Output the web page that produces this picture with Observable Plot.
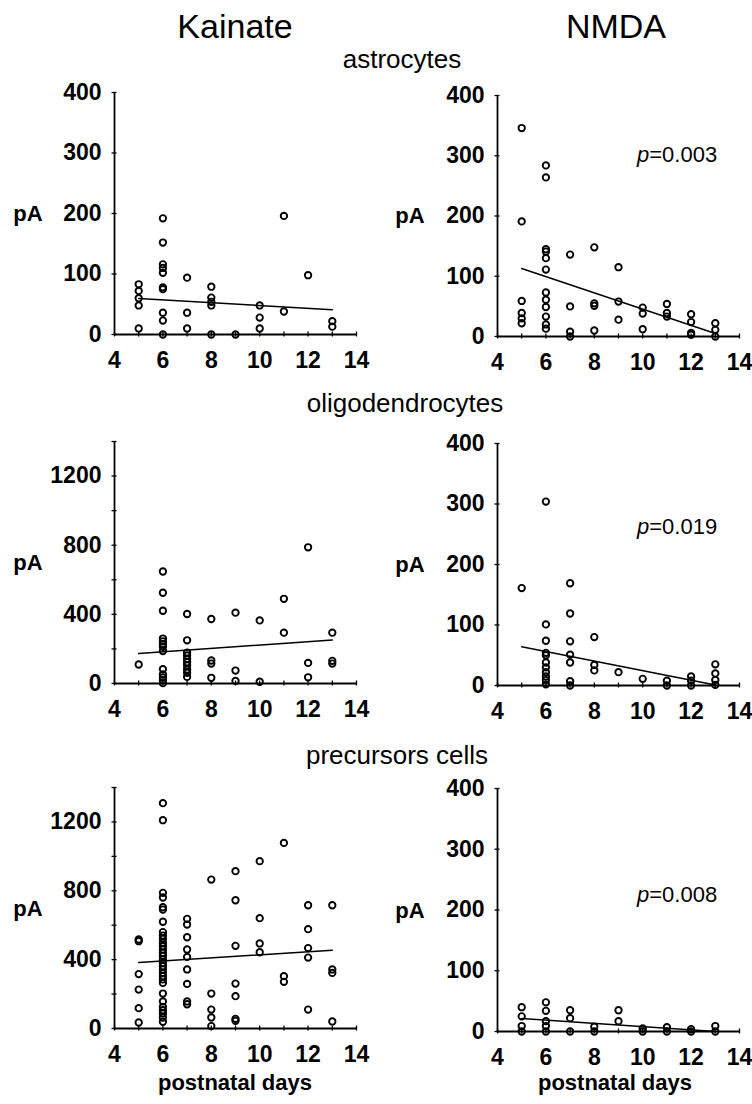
<!DOCTYPE html>
<html><head><meta charset="utf-8">
<script src="https://cdn.jsdelivr.net/npm/d3@7"></script>
<script src="https://cdn.jsdelivr.net/npm/@observablehq/plot@0.6"></script>
<style>
body{margin:0;background:#fff;}
#page{position:relative;width:752px;height:1104px;font-family:"Liberation Sans",Arial,Helvetica,sans-serif;color:#000;overflow:hidden;}
#page svg{position:absolute;}
</style></head><body><div id="page"></div>
<script>
// ---- data: [postnatal day, [currents in pA]] ----
const kainateAstrocytes = [
  [5,[83,72,60,48,10]],
  [6,[192,152,116,110,102,78,75,36,23,0]],
  [7,[94,36,10]],
  [8,[79,61,54,48,0]],
  [9,[0]],
  [10,[48,28,10]],
  [11,[196,38]],
  [12,[98]],
  [13,[22,13]]
];
const nmdaAstrocytes = [
  [5,[346,191,59,39,30,22]],
  [6,[284,264,145,141,130,111,73,61,49,33,20,13]],
  [7,[136,50,8,0]],
  [8,[148,55,51,10]],
  [9,[115,58,28]],
  [10,[48,38,12]],
  [11,[54,39,33]],
  [12,[37,24,6,3]],
  [13,[22,11,0]]
];
const kainateOligo = [
  [5,[110]],
  [6,[648,525,421,260,244,229,212,188,83,52,35,19,2]],
  [7,[402,250,179,162,142,123,104,81,62,38]],
  [8,[373,133,115,33]],
  [9,[410,75,15]],
  [10,[365,10]],
  [11,[490,294]],
  [12,[788,119,36]],
  [13,[294,131,115]]
];
const nmdaOligo = [
  [5,[161]],
  [6,[304,101,74,54,50,38,30,22,15,9,2]],
  [7,[169,119,73,51,38,7,0]],
  [8,[80,34,25]],
  [9,[22]],
  [10,[11]],
  [11,[8,0]],
  [12,[15,8,0]],
  [13,[35,20,9,1]]
];
const kainatePrecursors = [
  [5,[517,507,316,226,118,35]],
  [6,[1309,1210,788,761,705,691,620,560,540,521,498,478,459,440,422,401,381,362,343,323,304,285,265,203,157,126,106,87,64,39]],
  [7,[637,604,530,459,416,343,259,157,141]],
  [8,[865,203,110,64,14]],
  [9,[914,745,480,261,188,56,45]],
  [10,[972,641,494,443]],
  [11,[1078,304,271]],
  [12,[716,577,467,412,110]],
  [13,[716,343,323,41]]
];
const nmdaPrecursors = [
  [5,[40,25,9,0]],
  [6,[48,34,17,9,0]],
  [7,[35,22,0]],
  [8,[8,0]],
  [9,[35,17]],
  [10,[5,0]],
  [11,[7,0]],
  [12,[4,0]],
  [13,[9,0]]
];
// regression lines as drawn in the figure (day 5 and day 13 ends)
const fitDays = [5, 13];
const fitKainateAstrocytes = [59.5, 41];
const fitNmdaAstrocytes = [113, 5];
const fitKainateOligo = [173, 252];
const fitNmdaOligo = [64, 1];
const fitKainatePrecursors = [383, 455];
const fitNmdaPrecursors = [21.5, 0];
// text
const columnTitles = ["Kainate", "NMDA"];
const cellTypes = ["astrocytes", "oligodendrocytes", "precursors cells"];
const pValues = ["0.003", "0.019", "0.008"];
const xTicks = [4,5,6,7,8,9,10,11,12,13,14];
const xLabels = [4,6,8,10,12,14];
const smallYTicks = [0,100,200,300,400];
const bigYTicks = [0,200,400,600,800,1000,1200,1400];
const bigYLabels = [0,400,800,1200];
const yLabel = "pA";
const xLabel = "postnatal days";

const FONT = '"Liberation Sans", Arial, Helvetica, sans-serif';
const page = document.getElementById("page");

function flatten(groups){
  const out = [];
  for (const [day, vals] of groups) for (const v of vals) out.push({day, pA: v});
  return out;
}

function panel({groups, fit, yTicks, yLabels, left, top, width, marginLeft, marginRight, h}){
  const pts = flatten(groups);
  const fitRows = fitDays.map((d,i) => ({day: d, pA: fit[i]}));
  const yMax = yTicks[yTicks.length-1];
  const p = Plot.plot({
    width, height: 14 + h + 44,
    marginLeft, marginRight, marginTop: 14, marginBottom: 44,
    x: {domain: [4,14]},
    y: {domain: [0, yMax]},
    style: {fontFamily: FONT, fontSize: "23px", fontWeight: "bold", color: "#000", background: "transparent", overflow: "visible"},
    marks: [
      Plot.axisY({ticks: yLabels, tickFormat: d => String(d), tickSize: 0, tickPadding: 13, label: null, fontSize: 23, fontWeight: "bold"}),
      Plot.axisX({ticks: xLabels, tickFormat: d => String(d), tickSize: 0, tickPadding: 17, label: null, fontSize: 23, fontWeight: "bold"}),
      Plot.ruleX(xTicks, {x: d => d, y1: 0, y2: 0, insetTop: -2.5, insetBottom: -2.5, stroke: "#000", strokeWidth: 1.3}),
      Plot.ruleY(yTicks, {y: d => d, x1: 4, x2: 4, insetLeft: -2.5, insetRight: -2.5, stroke: "#000", strokeWidth: 1.3}),
      Plot.ruleX([4], {stroke: "#000", strokeWidth: 1.8}),
      Plot.ruleY([0], {stroke: "#000", strokeWidth: 1.8}),
      Plot.line(fitRows, {x: "day", y: "pA", stroke: "#000", strokeWidth: 1.5}),
      Plot.dot(pts, {x: "day", y: "pA", r: 3.2, stroke: "#000", strokeWidth: 1.9, fill: "none"})
    ]
  });
  p.style.left = left + "px";
  p.style.top = (top - 14) + "px";
  page.appendChild(p);
}

const L = {left: 0, width: 372, marginLeft: 114, marginRight: 16};
const R = {left: 384, width: 368, marginLeft: 113, marginRight: 13};

panel({...L, groups: kainateAstrocytes, fit: fitKainateAstrocytes, yTicks: smallYTicks, yLabels: smallYTicks, top: 92, h: 242});
panel({...R, groups: nmdaAstrocytes, fit: fitNmdaAstrocytes, yTicks: smallYTicks, yLabels: smallYTicks, top: 95, h: 241});
panel({...L, groups: kainateOligo, fit: fitKainateOligo, yTicks: bigYTicks, yLabels: bigYLabels, top: 441, h: 242});
panel({...R, groups: nmdaOligo, fit: fitNmdaOligo, yTicks: smallYTicks, yLabels: smallYTicks, top: 443, h: 242});
panel({...L, groups: kainatePrecursors, fit: fitKainatePrecursors, yTicks: bigYTicks, yLabels: bigYLabels, top: 787, h: 241});
panel({...R, groups: nmdaPrecursors, fit: fitNmdaPrecursors, yTicks: smallYTicks, yLabels: smallYTicks, top: 788, h: 243});

// overlay text layer
const svg = d3.select(page).append("svg")
  .attr("width", 752).attr("height", 1104)
  .style("left", "0px").style("top", "0px")
  .style("font-family", FONT);

function txt(x, y, s, size, weight, anchor){
  return svg.append("text").attr("x", x).attr("y", y).attr("text-anchor", anchor || "middle")
    .attr("font-size", size).attr("font-weight", weight || "normal").attr("fill", "#000").text(s);
}
txt(235, 38, columnTitles[0], 34);
txt(616, 38, columnTitles[1], 34);
txt(402, 68, cellTypes[0], 26);
txt(405, 412, cellTypes[1], 26);
txt(397, 764, cellTypes[2], 26);

// pA labels
[[213],[562],[908]].forEach(([cy]) => {
  txt(28, cy + 8, yLabel, 22, "bold");
  txt(410, cy + 10, yLabel, 22, "bold");
});

// p-values
[[162],[534],[902]].forEach(([by], i) => {
  const t = svg.append("text").attr("x", 637).attr("y", by).attr("font-size", 22).attr("fill", "#000");
  t.append("tspan").attr("font-style", "italic").text("p");
  t.append("tspan").text("=" + pValues[i]);
});

txt(235, 1090, xLabel, 22, "bold");
txt(615, 1090, xLabel, 22, "bold");
</script></body></html>
